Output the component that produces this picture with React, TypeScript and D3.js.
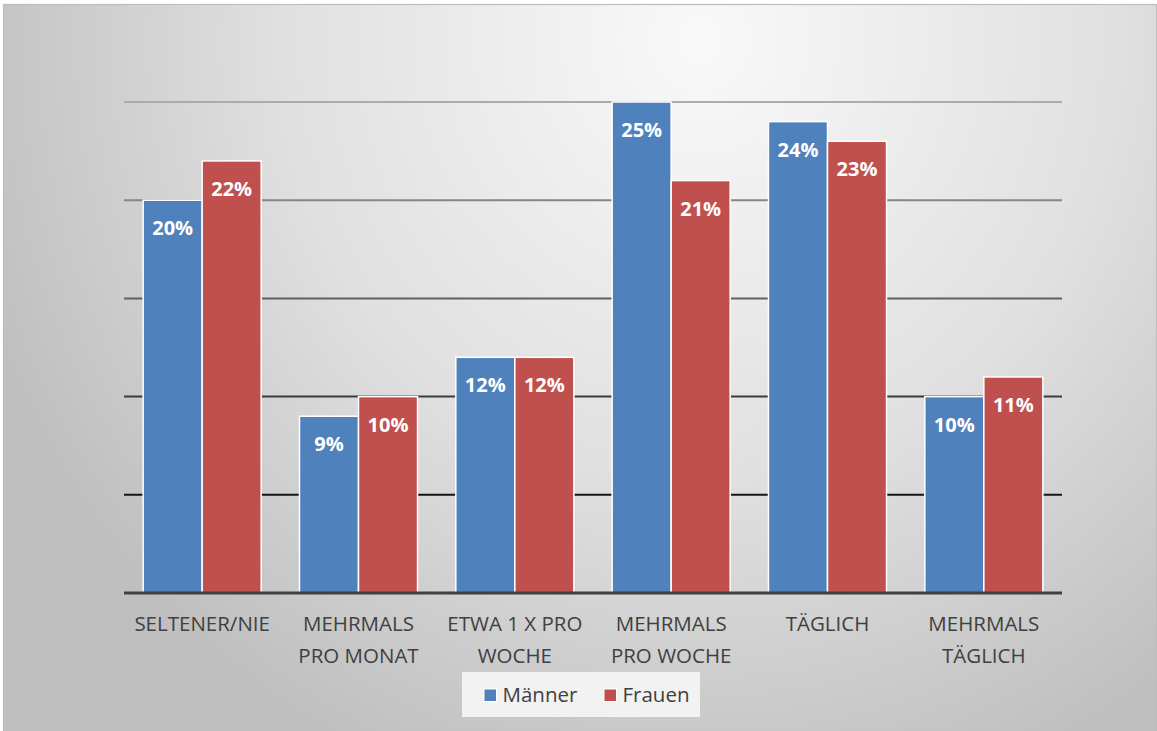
import React from "react";
import * as d3 from "d3";

const categories: string[][] = [
  ["SELTENER/NIE"],
  ["MEHRMALS", "PRO MONAT"],
  ["ETWA 1 X PRO", "WOCHE"],
  ["MEHRMALS", "PRO WOCHE"],
  ["TÄGLICH"],
  ["MEHRMALS", "TÄGLICH"],
];
const maenner = [20, 9, 12, 25, 24, 10];
const frauen = [22, 10, 12, 21, 23, 11];
const seriesNames = ["Männer", "Frauen"];
const seriesColors = ["#4f81bd", "#c0504d"];
const gridTicks = [5, 10, 15, 20, 25];

const W = 1157;
const H = 731;
const plotLeft = 124;
const plotRight = 1062;
const plotTop = 102;
const plotBottom = 593;
const FONT = "'Open Sans', 'DejaVu Sans', sans-serif";

export default function App() {
  const x0 = d3
    .scaleBand<number>()
    .domain(d3.range(categories.length))
    .range([plotLeft, plotRight])
    .paddingInner(0.245)
    .paddingOuter(0.1225);
  const x1 = d3.scaleBand<number>().domain([0, 1]).range([0, x0.bandwidth()]);
  const y = d3.scaleLinear().domain([0, 25]).range([plotBottom, plotTop]);
  const gridColor = d3.scaleLinear<string>().domain([5, 25]).range(["#151515", "#ababab"]);
  const series = [maenner, frauen];
  const groupStep = (plotRight - plotLeft) / categories.length;

  return (
    <svg
      width={W}
      height={H}
      style={{ position: "absolute", left: 0, top: 0 }}
      viewBox={`0 0 ${W} ${H}`}
    >
      <defs>
        <radialGradient id="bg" gradientUnits="userSpaceOnUse" cx={700} cy={40} r={760} fx={700} fy={40}
          gradientTransform="translate(700 40) scale(1 1.05) translate(-700 -40)">
          <stop offset="0" stopColor="#f9f9f9" />
          <stop offset="0.55" stopColor="#e0e0e0" />
          <stop offset="1" stopColor="#bfbfbf" />
        </radialGradient>
      </defs>
      <rect x={3.5} y={4.5} width={W - 4} height={H - 4} fill="url(#bg)" stroke="#bdbdbd" strokeWidth={1.2} />

      {gridTicks.map((t) => (
        <line
          key={t}
          x1={plotLeft}
          x2={plotRight}
          y1={y(t)}
          y2={y(t)}
          stroke={gridColor(t)}
          strokeWidth={2}
        />
      ))}

      {categories.map((_, i) => (
        <g key={i} transform={`translate(${x0(i)},0)`}>
          {series.map((vals, s) => (
            <g key={s}>
              <rect
                x={x1(s)!}
                y={y(vals[i])}
                width={x1.bandwidth()}
                height={y(0) - y(vals[i])}
                fill={seriesColors[s]}
                stroke="#ffffff"
                strokeWidth={1.5}
              />
              <text
                x={x1(s)! + x1.bandwidth() / 2}
                y={y(vals[i]) + 35}
                textAnchor="middle"
                fill="#ffffff"
                fontFamily={FONT}
                fontWeight="bold"
                fontSize={20}
              >
                {vals[i]}%
              </text>
            </g>
          ))}
        </g>
      ))}

      <line x1={plotLeft} x2={plotRight} y1={plotBottom} y2={plotBottom} stroke="#404040" strokeWidth={3} />

      {categories.map((lines, i) => (
        <text
          key={i}
          x={plotLeft + groupStep * (i + 0.5)}
          textAnchor="middle"
          fill="#404040"
          fontFamily={FONT}
          fontSize={20.5}
        >
          {lines.map((ln, k) => (
            <tspan key={k} x={plotLeft + groupStep * (i + 0.5)} y={631 + k * 31.5}>
              {ln}
            </tspan>
          ))}
        </text>
      ))}

      <g>
        <rect x={462} y={672} width={238} height={45} fill="#f2f2f2" />
        {seriesNames.map((name, s) => {
          const lx = s === 0 ? 484 : 604;
          return (
            <g key={name}>
              <rect x={lx} y={689} width={12.5} height={12.5} fill={seriesColors[s]} stroke="#ffffff" strokeWidth={1} />
              <text x={lx + 18.5} y={702} fill="#404040" fontFamily={FONT} fontSize={20.5}>
                {name}
              </text>
            </g>
          );
        })}
      </g>
    </svg>
  );
}
